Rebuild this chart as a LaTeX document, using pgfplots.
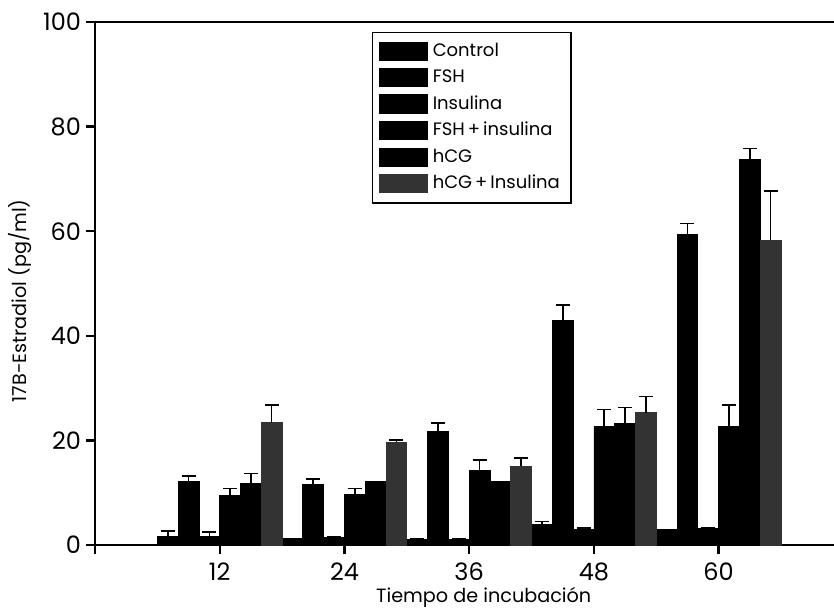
\documentclass[border=0pt]{standalone}
\usepackage{pgfplots}
\pgfplotsset{compat=1.18}
\usepackage{fontspec}
\setmainfont{Poppins}
\begin{document}
\begin{tikzpicture}
\begin{axis}[
  at={(0,0)}, anchor=south west,
  scale only axis, width=369.5pt, height=261.5pt,
  xmin=0, xmax=71.1, ymin=0, ymax=100,
  axis x line*=bottom, axis y line*=left,
  x axis line style={-, line width=1.3pt},
  y axis line style={-, line width=1.3pt},
  xtick={0,12,24,36,48,60}, xticklabels={,12,24,36,48,60},
  ytick={0,20,40,60,80,100},
  tick style={line width=1.2pt, black},
  major tick length=4.5pt, tick align=outside,
  ticklabel style={font=\fontsize{12}{14}\selectfont},
  /pgf/number format/assume math mode=true,
  xticklabel style={yshift=-1pt},
  yticklabel style={xshift=1pt},
  xlabel={Tiempo de incubación},
  xlabel style={font=\fontsize{9.6}{12}\selectfont, at={(rel axis cs:0.526,0)}, anchor=center, yshift=-26pt},
  clip=false,
  legend cell align=left,
  legend style={at={(rel axis cs:0.3748,0.981)}, anchor=north west,
    draw=black, line width=0.6pt, font=\fontsize{9}{11}\selectfont,
    row sep=2pt, inner xsep=3pt, inner ysep=4pt,
    nodes={inner xsep=2.5pt, inner ysep=1.5pt}},
  legend image code/.code={\fill[#1] (0pt,-4.5pt) rectangle (24pt,4.5pt);},
  error bars/y dir=plus, error bars/y explicit,
  error bars/error bar style={line width=0.8pt, black},
  error bars/error mark options={rotate=90, mark size=3.5pt, line width=0.8pt, black},
]
\addplot[ybar, bar width=2, fill=black, draw=black] coordinates {
 (7,1.7) +- (0,1.0) (19,1.2) +- (0,0) (31,1.1) +- (0,0) (43,4.0) +- (0,0.5) (55,2.9) +- (0,0)};
\addlegendentry{Control}
\addplot[ybar, bar width=2, fill=black, draw=black] coordinates {
 (9,12.2) +- (0,1.0) (21,11.5) +- (0,1.1) (33,21.7) +- (0,1.6) (45,43.0) +- (0,2.9) (57,59.3) +- (0,2.2)};
\addlegendentry{FSH}
\addplot[ybar, bar width=2, fill=black, draw=black] coordinates {
 (11,1.7) +- (0,0.8) (23,1.5) +- (0,0) (35,1.1) +- (0,0) (47,3.0) +- (0,0.3) (59,3.2) +- (0,0)};
\addlegendentry{Insulina}
\addplot[ybar, bar width=2, fill=black, draw=black] coordinates {
 (13,9.5) +- (0,1.3) (25,9.6) +- (0,1.2) (37,14.3) +- (0,1.9) (49,22.6) +- (0,3.3) (61,22.6) +- (0,4.2)};
\addlegendentry{FSH\,+\,insulina}
\addplot[ybar, bar width=2, fill=black, draw=black] coordinates {
 (15,11.8) +- (0,1.9) (27,12.1) +- (0,0) (39,12.1) +- (0,0) (51,23.3) +- (0,3.0) (63,73.7) +- (0,2.1)};
\addlegendentry{hCG}
\addplot[ybar, bar width=2, fill=black!80, draw=black!80] coordinates {
 (17,23.4) +- (0,3.4) (29,19.6) +- (0,0.5) (41,15.1) +- (0,1.5) (53,25.3) +- (0,3.1) (65,58.3) +- (0,9.4)};
\addlegendentry{hCG\,+\,Insulina}
\draw[line width=1.3pt] (rel axis cs:0,1) -- (rel axis cs:1,1);
\node[rotate=90, anchor=center, font=\fontsize{9.6}{12}\selectfont] at (rel axis cs:-0.1015,0.467) {17B-Estradiol (pg/ml)};
\end{axis}
\pgfresetboundingbox
\path (-47.5pt,-34pt) rectangle (369.5pt,272.5pt);
\end{tikzpicture}
\end{document}
